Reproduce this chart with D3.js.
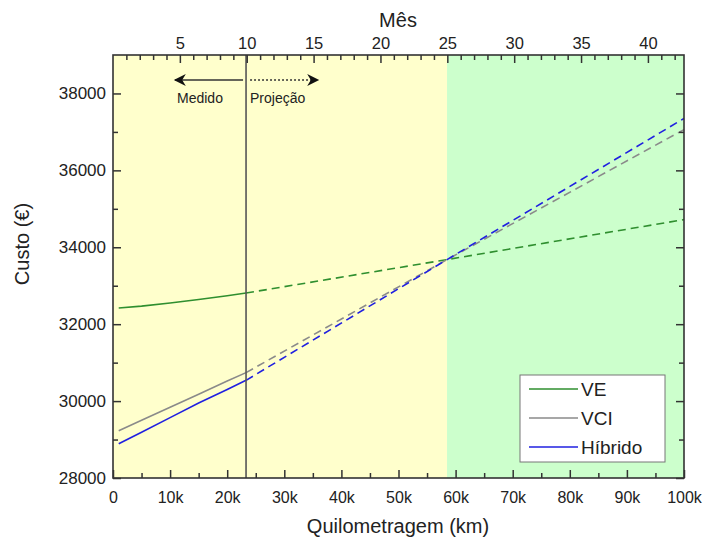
<!DOCTYPE html>
<html>
<head>
<meta charset="utf-8">
<script src="https://cdn.jsdelivr.net/npm/d3@7"></script>
<style>
  body { margin: 0; background: #fff; }
  text { font-family: Arial, "Liberation Sans", sans-serif; fill: #222; }
</style>
</head>
<body>
<div id="canvas"></div>
<script>
/* data */
var kmMeasured = [1000, 5000, 10000, 15000, 20000, 23300];
var veMeasured = [32420, 32470, 32550, 32640, 32740, 32810];
var vciMeasured = [29230, 29500, 29840, 30180, 30520, 30740];
var hibMeasured = [28890, 29190, 29570, 29950, 30300, 30540];

var kmProjected = [23300, 58500, 100000];
var veProjected = [32810, 33680, 34720];
var vciProjected = [30740, 33680, 37060];
var hibProjected = [30540, 33680, 37350];

var seriesNames = ['VE', 'VCI', 'Híbrido'];
var seriesColors = ['#2f8f2f', '#8a8a8a', '#2020e0'];

var kmTicks = [0, 10000, 20000, 30000, 40000, 50000, 60000, 70000, 80000, 90000, 100000];
var kmTickLabels = ['0', '10k', '20k', '30k', '40k', '50k', '60k', '70k', '80k', '90k', '100k'];
var monthTicks = [5, 10, 15, 20, 25, 30, 35, 40];
var costTicks = [28000, 30000, 32000, 34000, 36000, 38000];

var measuredEndKm = 23300;   // month 10
var greenStartKm = 58500;    // month 25

var width = 704, height = 537;

var svg = d3.select('#canvas')
	.append('svg')
	.attr('width', width)
	.attr('height', height);

var x = d3.scaleLinear().domain([0, 100000]).range([113, 684]);
var xMonth = d3.scaleLinear().domain([0, 100000 / 2342]).range([113, 684]);
var y = d3.scaleLinear().domain([28000, 39000]).range([478, 55]);

/* background regions */
svg.append('rect')
	.attr('x', x(0)).attr('y', y(39000))
	.attr('width', x(greenStartKm) - x(0))
	.attr('height', y(28000) - y(39000))
	.style('fill', '#ffffcc');

svg.append('rect')
	.attr('x', x(greenStartKm)).attr('y', y(39000))
	.attr('width', x(100000) - x(greenStartKm))
	.attr('height', y(28000) - y(39000))
	.style('fill', '#ccffcc');

/* lines */
var line = d3.line()
	.x(function(d){ return x(d[0]); })
	.y(function(d){ return y(d[1]); });

var measured = [veMeasured, vciMeasured, hibMeasured];
var projected = [veProjected, vciProjected, hibProjected];

measured.forEach(function(vals, i){
	svg.append('path')
		.datum(d3.zip(kmMeasured, vals))
		.attr('d', line)
		.style('fill', 'none')
		.style('stroke', seriesColors[i])
		.style('stroke-width', '1.6px');
});

projected.forEach(function(vals, i){
	svg.append('path')
		.datum(d3.zip(kmProjected, vals))
		.attr('d', line)
		.style('fill', 'none')
		.style('stroke', seriesColors[i])
		.style('stroke-width', '1.6px')
		.style('stroke-dasharray', '8,5');
});

/* measured / projected divider */
svg.append('line')
	.attr('x1', x(measuredEndKm)).attr('x2', x(measuredEndKm))
	.attr('y1', y(39000)).attr('y2', y(28000))
	.style('stroke', '#555')
	.style('stroke-width', '1.6px');

/* arrows */
var defs = svg.append('defs');
defs.append('marker')
	.attr('id', 'head')
	.attr('viewBox', '0 0 10 10')
	.attr('refX', 9).attr('refY', 5)
	.attr('markerWidth', 20).attr('markerHeight', 12)
	.attr('markerUnits', 'userSpaceOnUse')
	.attr('orient', 'auto')
	.append('path')
	.attr('d', 'M0,0 L10,5 L0,10 L3,5 Z')
	.style('fill', '#111');

svg.append('line')
	.attr('x1', x(measuredEndKm) - 3).attr('x2', 175)
	.attr('y1', 80).attr('y2', 80)
	.style('stroke', '#333')
	.style('stroke-width', '1.5px')
	.attr('marker-end', 'url(#head)');

svg.append('line')
	.attr('x1', x(measuredEndKm) + 4).attr('x2', 318)
	.attr('y1', 80).attr('y2', 80)
	.style('stroke', '#333')
	.style('stroke-width', '1.5px')
	.style('stroke-dasharray', '2,2')
	.attr('marker-end', 'url(#head)');

svg.append('text')
	.attr('x', 177).attr('y', 103)
	.style('font-size', '14px')
	.text('Medido');

svg.append('text')
	.attr('x', 250).attr('y', 103)
	.style('font-size', '14px')
	.text('Projeção');

/* axes, ticks pointing inward */
var axisColor = '#333';

var bottomAxis = svg.append('g')
	.attr('transform', 'translate(0,' + y(28000) + ')')
	.call(d3.axisBottom(x)
		.tickValues(kmTicks)
		.tickSizeInner(-8).tickSizeOuter(0)
		.tickFormat(function(d, i){ return kmTickLabels[i]; }));
bottomAxis.selectAll('text').attr('dy', null).attr('y', 25).style('font-size', '16px');

svg.append('g')
	.attr('transform', 'translate(0,' + y(28000) + ')')
	.call(d3.axisBottom(x).tickValues(d3.range(5000, 100000, 10000)).tickSizeInner(-5).tickSizeOuter(0).tickFormat(''));

var topAxis = svg.append('g')
	.attr('transform', 'translate(0,' + y(39000) + ')')
	.call(d3.axisTop(xMonth)
		.tickValues(monthTicks)
		.tickSizeInner(-8).tickSizeOuter(0));
topAxis.selectAll('text').attr('dy', null).attr('y', -6).style('font-size', '16.5px');

svg.append('g')
	.attr('transform', 'translate(0,' + y(39000) + ')')
	.call(d3.axisTop(xMonth).tickValues(d3.range(1, 43).filter(function(m){ return m % 5 != 0; }))
		.tickSizeInner(-5).tickSizeOuter(0).tickFormat(''));

var leftAxis = svg.append('g')
	.attr('transform', 'translate(' + x(0) + ',0)')
	.call(d3.axisLeft(y)
		.tickValues(costTicks)
		.tickSizeInner(-8).tickSizeOuter(0)
		.tickFormat(d3.format('d')));
leftAxis.selectAll('text').attr('x', -7).style('font-size', '17px');

svg.append('g')
	.attr('transform', 'translate(' + x(0) + ',0)')
	.call(d3.axisLeft(y).tickValues(d3.range(29000, 39000, 2000)).tickSizeInner(-5).tickSizeOuter(0).tickFormat(''));

svg.append('g')
	.attr('transform', 'translate(' + x(100000) + ',0)')
	.call(d3.axisRight(y).tickValues(costTicks).tickSizeInner(-8).tickSizeOuter(0).tickFormat(''));

svg.append('g')
	.attr('transform', 'translate(' + x(100000) + ',0)')
	.call(d3.axisRight(y).tickValues(d3.range(29000, 39000, 2000)).tickSizeInner(-5).tickSizeOuter(0).tickFormat(''));

svg.selectAll('.domain').remove();
svg.selectAll('.tick line').style('stroke', axisColor).style('stroke-width', '1.5px');

/* frame */
svg.append('rect')
	.attr('x', x(0)).attr('y', y(39000))
	.attr('width', x(100000) - x(0))
	.attr('height', y(28000) - y(39000))
	.style('fill', 'none')
	.style('stroke', axisColor)
	.style('stroke-width', '1.6px');

/* axis titles */
svg.append('text')
	.attr('x', 398).attr('y', 533)
	.attr('text-anchor', 'middle')
	.style('font-size', '20px')
	.text('Quilometragem (km)');

svg.append('text')
	.attr('x', 398).attr('y', 27)
	.attr('text-anchor', 'middle')
	.style('font-size', '20px')
	.text('Mês');

svg.append('text')
	.attr('transform', 'translate(29,' + 244 + ') rotate(-90)')
	.attr('text-anchor', 'middle')
	.style('font-size', '20px')
	.text('Custo (€)');

/* legend */
var legend = svg.append('g')
	.attr('transform', 'translate(520,375)');

legend.append('rect')
	.attr('width', 145).attr('height', 87)
	.style('fill', '#fff')
	.style('stroke', '#777')
	.style('stroke-width', '1px');

seriesNames.forEach(function(name, i){
	var row = legend.append('g')
		.attr('transform', 'translate(0,' + (14 + i * 29) + ')');
	row.append('line')
		.attr('x1', 9).attr('x2', 58)
		.style('stroke', seriesColors[i])
		.style('stroke-width', '1.6px');
	row.append('text')
		.attr('x', 61).attr('y', 7)
		.style('font-size', '19px')
		.text(name);
});
</script>
</body>
</html>
